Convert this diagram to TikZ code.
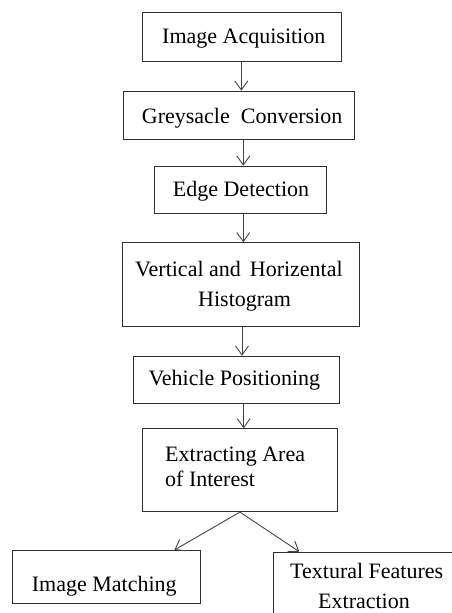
\documentclass[tikz,border=0pt]{standalone}
\usepackage{fontspec}
\setmainfont{Liberation Serif}
\usetikzlibrary{arrows.meta}
\definecolor{boxline}{HTML}{303030}
\definecolor{arrline}{HTML}{454545}
\begin{document}
\begin{tikzpicture}[x=1pt,y=-1pt,
  box/.style={draw=boxline,line width=1.1pt,inner sep=0pt,anchor=north west},
  txt/.style={anchor=base west,inner sep=0pt,font=\fontsize{22}{30}\selectfont,text=black},
  arr/.style={draw=arrline,line width=0.9pt,-{Straight Barb[length=9pt,width=13pt,line width=0.9pt]}}]
\useasboundingbox (0,0) rectangle (452,613);
\clip (0,0) rectangle (452,613);
\fill[white] (0,0) rectangle (452,613);
% boxes
\node[box,minimum width=199pt,minimum height=48.4pt] (a) at (141.7,12.3) {};
\node[box,minimum width=230.7pt,minimum height=48.6pt] (b) at (123.3,90.7) {};
\node[box,minimum width=171.4pt,minimum height=47.6pt] (c) at (154.3,165.7) {};
\node[box,minimum width=237pt,minimum height=83.4pt] (d) at (122.3,242.3) {};
\node[box,minimum width=206pt,minimum height=47.6pt] (e) at (133,355.7) {};
\node[box,minimum width=195.3pt,minimum height=82.7pt] (f) at (141.7,428.3) {};
\node[box,minimum width=188.3pt,minimum height=52.7pt] (g) at (11.7,550) {};
\node[box,minimum width=190pt,minimum height=70pt] (h) at (273.3,551.7) {};
% texts
\node[txt] (ta) at (162,43.3) {Image Acquisition};
\node[txt] (tb) at (141.7,123.3) {Greysacle\ \ Conversion};
\node[txt] (tc) at (172.7,196.7) {Edge Detection};
\node[txt] (td1) at (135,276.7) {Vertical and\hspace{3.5pt} Horizental};
\node[txt] (td2) at (198,306.7) {Histogram};
\node[txt] (te) at (148.3,385) {Vehicle Positioning};
\node[txt] (tf1) at (165,461.7) {Extracting Area};
\node[txt] (tf2) at (165,486.7) {of Interest};
\node[txt] (tg) at (31.7,591.7) {Image Matching};
\node[txt] (th1) at (290,578.3) {Textural Features};
\node[txt] (th2) at (318,608.3) {Extraction};
% arrows
\draw[arr] (a.south -| 241.3,0) -- (b.north -| 241.3,0);
\draw[arr] (b.south -| 243.3,0) -- (c.north -| 243.3,0);
\draw[arr] (c.south -| 243.3,0) -- (d.north -| 243.3,0);
\draw[arr] (d.south -| 242,0) -- (e.north -| 242,0);
\draw[arr] (e.south -| 243.7,0) -- (f.north -| 243.7,0);
\draw[arr] (f.south) -- ([xshift=-26.7pt]g.north east);
\draw[arr] (f.south) -- ([xshift=26pt]h.north west);
\end{tikzpicture}
\end{document}
